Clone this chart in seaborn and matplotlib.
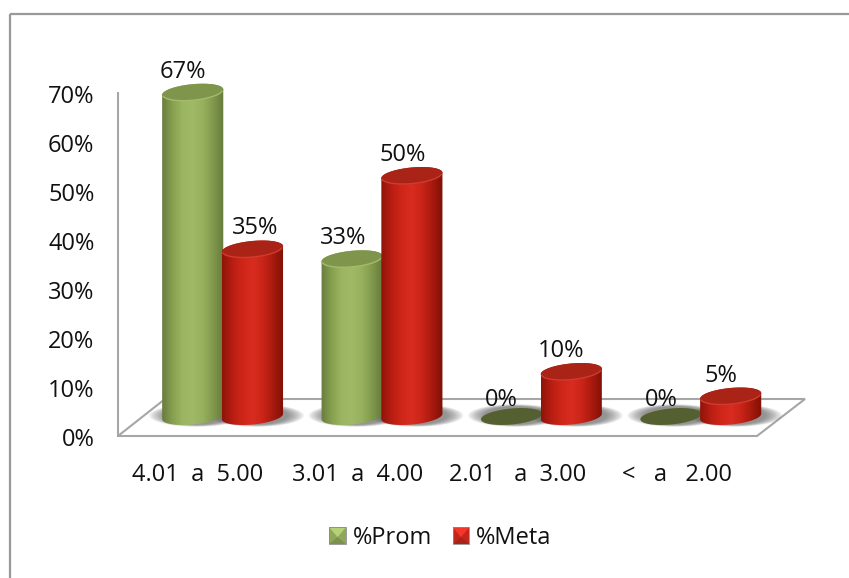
import numpy as np
import pandas as pd
import matplotlib
matplotlib.use("Agg")
import matplotlib.pyplot as plt
from matplotlib.colors import LinearSegmentedColormap, to_rgb
from matplotlib.legend_handler import HandlerBase
from matplotlib.lines import Line2D
from matplotlib.patches import Polygon, Patch, Rectangle
from matplotlib.transforms import ScaledTranslation
import seaborn as sns

categories = ["4.01  a  5.00", "3.01  a  4.00", "2.01   a  3.00", "<   a   2.00"]
series_names = ["%Prom", "%Meta"]
prom_values = [67, 33, 0, 0]
meta_values = [35, 50, 10, 5]
y_ticks = [0, 10, 20, 30, 40, 50, 60, 70]

W, H = 849, 578
sns.set_theme(style="white")
plt.rcParams["font.family"] = ["Open Sans", "DejaVu Sans"]
FS = 17
GREY = "#a6a6a6"

fig = plt.figure(figsize=(W / 100, H / 100), dpi=100, facecolor="white")


def axes_px(x0, x1, ytop, ybot, **kw):
    return fig.add_axes([x0 / W, 1 - ybot / H, (x1 - x0) / W, (ybot - ytop) / H], **kw)


def line_px(xs, ys, color=GREY, lw=1.5, **kw):
    fig.add_artist(Line2D([x / W for x in xs], [1 - y / H for y in ys],
                          color=color, lw=lw, transform=fig.transFigure, **kw))


# Outer frame (left and top only)
line_px([9.5, 9.5], [578, 13.5], color="#999999", lw=1.6, solid_capstyle="butt")
line_px([9.5, 849], [13.5, 13.5], color="#999999", lw=1.6, solid_capstyle="butt")

# Front axes: wall, floor, tick labels
back = axes_px(118, 757, 93, 436)
back.patch.set_alpha(0)
back.set_xlim(-0.5, 3.5)
back.set_ylim(0, 70)
back.set_yticks(y_ticks, [f"{t}%" for t in y_ticks], fontsize=FS, color="#111111")
back.set_xticks(range(4), categories, fontsize=FS, color="#111111")
back.tick_params(length=0, axis="y", pad=17)
back.tick_params(length=0, axis="x", pad=19.5)
nudge = ScaledTranslation(0, -0.6 / 72, fig.dpi_scale_trans)
for lab in back.get_yticklabels():
    lab.set_transform(lab.get_transform() + nudge)
for s in back.spines.values():
    s.set_visible(False)
line_px([118, 118], [92, 436], lw=1.5, solid_capstyle="butt")
line_px([118, 165, 805, 757, 118], [436, 399, 399, 436, 436], lw=1.5, solid_joinstyle="miter")

# Bar axes, on the back plane of the 3D box
BASE = 420.5
PX_Y = 4.9
PX_X = 159.4
FLOOR = 4.0 / PX_Y          # bars start slightly above the value origin
x0 = 222.6 - PX_X / 2
ax = axes_px(x0, x0 + 4 * PX_X, BASE - 75 * PX_Y, BASE, zorder=3)
ax.patch.set_alpha(0)
df = pd.DataFrame({
    "cat": categories * 2,
    "series": [series_names[0]] * 4 + [series_names[1]] * 4,
    "value": prom_values + meta_values,
})
PALETTE = {"%Prom": "#9bb562", "%Meta": "#d42a1e"}
sns.barplot(data=df, x="cat", y="value", hue="series", palette=PALETTE, width=0.75,
            legend=False, ax=ax, order=categories, hue_order=series_names,
            saturation=1, linewidth=0)
ax.set_xlim(-0.5, 3.5)
ax.set_ylim(0, 75)
ax.axis("off")

STYLE = {
    "%Prom": dict(stops=["#6a7c40", "#86a04f", "#9bb562", "#a0b966", "#96b05e", "#80984c", "#667a3c"],
                  cap="#7f954c", rim="#a3bb6a", zero="#556030"),
    "%Meta": dict(stops=["#8f1409", "#b81e12", "#cf2619", "#d92c20", "#c92418", "#a81a0e", "#7e1006"],
                  cap="#a92317", rim="#d23a2e", zero="#a82216"),
}
TILT = np.deg2rad(5.5)
CAP_B = 8.0


def ellipse_xy(cx, v, a, t):
    dx = a * np.cos(t)
    dy = CAP_B * np.sin(t)
    px = dx * np.cos(TILT) + dy * np.sin(TILT)
    py = -dx * np.sin(TILT) + dy * np.cos(TILT)  # downward pixel offset
    return cx + px / PX_X, v - py / PX_Y


def shadow(cx, a):
    t = np.linspace(0, 2 * np.pi, 80)
    for k in np.linspace(1.55, 1.02, 12):
        px = a * k * np.cos(t) + 4
        py = 9.0 * (0.55 + 0.45 * k) * np.sin(t) - 1
        ax.add_patch(Polygon(np.c_[cx + px / PX_X, FLOOR - py / PX_Y], closed=True, fc="#555555",
                             ec="none", alpha=0.075, clip_on=False, zorder=2))


for name, container in zip(series_names, ax.containers):
    st = STYLE[name]
    cmap = LinearSegmentedColormap.from_list(name, st["stops"])
    for bar in container:
        bar.set_visible(False)
        cx = bar.get_x() + bar.get_width() / 2
        v = bar.get_height()
        a = bar.get_width() * PX_X / 2 + 0.8
        z = 4 if name == "%Prom" else 5
        shadow(cx, a)
        if v == 0:
            t = np.linspace(0, 2 * np.pi, 80)
            xs, ys = ellipse_xy(cx, FLOOR, a, t)
            ax.add_patch(Polygon(np.c_[xs, ys], closed=True, fc=st["zero"], ec="none",
                                 clip_on=False, zorder=z))
            continue
        tl = np.linspace(0, np.pi, 60)
        bx, by = ellipse_xy(cx, FLOOR, a, tl)        # front of the base
        tu = np.linspace(np.pi, 2 * np.pi, 60)
        ux, uy = ellipse_xy(cx, v, a, tu)            # back of the cap
        outline = Polygon(np.c_[np.r_[bx, ux], np.r_[by, uy]], closed=True, fc="none", ec="none",
                          transform=ax.transData, clip_on=False)
        ax.add_patch(outline)
        im = ax.imshow(np.linspace(0, 1, 120)[None, :], cmap=cmap, aspect="auto",
                       extent=[cx - a / PX_X, cx + a / PX_X, -5, v + 3], zorder=z)
        im.set_clip_path(outline)
        im.set_clip_box(fig.bbox)
        # top cap
        t = np.linspace(0, 2 * np.pi, 120)
        xs, ys = ellipse_xy(cx, v, a, t)
        ax.add_patch(Polygon(np.c_[xs, ys], closed=True, fc=st["cap"], ec="none", clip_on=False, zorder=z))
        xr, yr = ellipse_xy(cx, v, a - 0.5, np.linspace(0.25, np.pi - 0.15, 50))
        ax.plot(xr, yr, color=st["rim"], lw=1.0, clip_on=False, zorder=z, solid_capstyle="round")
ax.set_xlim(-0.5, 3.5)
ax.set_ylim(0, 75)

# Data labels: on the axis scale of the front plane, lifted above the bars
label_shift = {"%Prom": [-10, -9, -10, -10], "%Meta": [3, -9, -10, -10]}
for name, values, container in zip(series_names, [prom_values, meta_values], ax.containers):
    for i, (v, bar) in enumerate(zip(values, container)):
        cx = bar.get_x() + bar.get_width() / 2
        xpx = x0 + (cx + 0.5) * PX_X + label_shift[name][i]
        ypx = 436 - 4.9 * v - 36
        ax.text(xpx / W, 1 - ypx / H, f"{v}%", transform=fig.transFigure, ha="center", va="center",
                fontsize=FS, color="#111111", zorder=10, clip_on=False)


class BevelHandler(HandlerBase):
    def create_artists(self, legend, orig, xd, yd, w, h, fs, trans):
        c = np.array(to_rgb(orig.get_facecolor()))
        s = min(w, h)
        x, y = -xd + (w - s) / 2, -yd + (h - s) / 2
        mk = lambda pts, col: Polygon(pts, closed=True, fc=col, ec="none", transform=trans)
        tl, tr, br, bl = (x, y + s), (x + s, y + s), (x + s, y), (x, y)
        mid = (x + s / 2, y + s * 0.42)
        return [
            mk([bl, br, tr, tl], tuple(c * 0.92)),
            mk([tl, tr, mid], tuple(np.clip(c * 1.12 + 0.03, 0, 1))),
            mk([bl, br, mid], tuple(c * 0.8)),
            Rectangle((x, y), s, s, fc="none", ec="#8c8c8c", lw=0.6, transform=trans),
        ]


handles = [Patch(fc=PALETTE[n]) for n in series_names]
fig.legend(handles, series_names, handler_map={Patch: BevelHandler()}, ncol=2, frameon=False,
           fontsize=FS, loc="center", bbox_to_anchor=(440.5 / W, 1 - 538 / H),
           handlelength=0.7, handleheight=0.7, handletextpad=0.3, columnspacing=0.87,
           labelcolor="#111111")

fig.savefig("out.png", dpi=100, facecolor="white")
